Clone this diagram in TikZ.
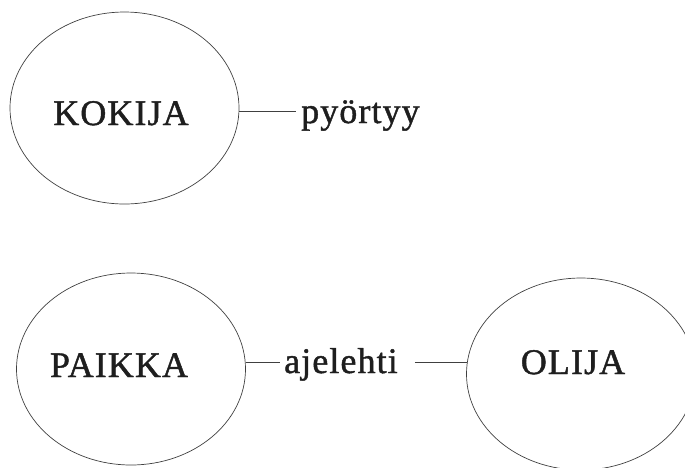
\documentclass[tikz,border=0pt]{standalone}
\usepackage{fontspec}
\setmainfont{Liberation Serif}
\newfontfamily\lblfont{Liberation Serif}[LetterSpace=3,FakeBold=1.2]
\usetikzlibrary{shapes.geometric,calc}
\definecolor{ink}{HTML}{1E1E1E}
\definecolor{rim}{HTML}{404040}
\tikzset{
  blob/.style={draw=rim, line width=0.7pt, ellipse, minimum width=229pt, minimum height=192pt, inner sep=0pt},
  lbl/.style={inner sep=0pt, text=ink, font=\lblfont\fontsize{36}{40}\selectfont},
  link/.style={draw=rim, line width=0.8pt}
}
\begin{document}
\begin{tikzpicture}[x=1pt,y=-1pt]
\useasboundingbox (0,0) rectangle (685,467);
\clip (0,0) rectangle (685,467);
% ellipses
\node[blob] (kok) at (124.5,108) {};
\node[blob] (pai) at (131,369) {};
\node[blob] (oli) at (581,374) {};
% texts
\node[lbl, anchor=base] (kokt) at (121,125) {KOKIJA};
\node[lbl, anchor=base] (pait) at (119,377) {PAIKKA};
\node[lbl, anchor=base] (olit) at (573,374) {OLIJA};
\node[lbl, anchor=base west] (pyo) at (301,123) {pyörtyy};
\node[lbl, anchor=base west] (aje) at (284,373) {ajelehti};
% connectors
\draw[link] ($(kok.east)+(0,3)$) -- ($(pyo.base west)+(-5,-12)$);
\draw[link] ($(pai.east)+(0,-7)$) -- ($(aje.base west)+(-4,-11)$);
\draw[link] ($(aje.base east)+(17,-11)$) -- ($(oli.west)+(1,-12)$);
\end{tikzpicture}
\end{document}
